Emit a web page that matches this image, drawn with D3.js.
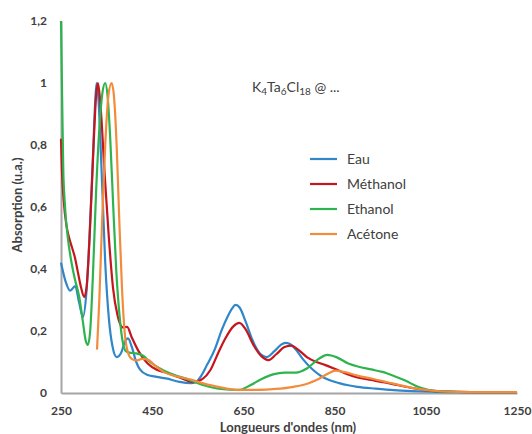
<!DOCTYPE html>
<html><head><meta charset="utf-8">
<script src="https://cdn.jsdelivr.net/npm/d3@7"></script>
<style>
body{margin:0;background:#fff;}
svg{display:block;font-family:Lato, "Liberation Sans", sans-serif;}
</style></head>
<body><svg id="c" width="532" height="434"></svg>
<script>
const xTicks = [250, 450, 650, 850, 1050, 1250];
const yTicks = [0, 0.2, 0.4, 0.6, 0.8, 1, 1.2];

const eauNm  = [250,260,270,281,290,298,306,313,320,325,328,332,340,347,355,363,372,382,390,397,405,415,423,440,460,480,510,535,545,555,570,587,603,615,625,633,642,655,670,688,701,718,732,742,752,765,780,800,820,838,860,880,900,940,980,1020,1060,1100,1150,1200,1250];
const eauAbs = [0.42,0.36,0.33,0.345,0.29,0.245,0.33,0.52,0.76,0.94,1.0,0.95,0.68,0.42,0.24,0.15,0.116,0.13,0.165,0.176,0.15,0.1,0.076,0.058,0.052,0.047,0.036,0.032,0.034,0.05,0.09,0.14,0.205,0.245,0.272,0.284,0.275,0.23,0.17,0.125,0.116,0.135,0.155,0.162,0.158,0.14,0.11,0.078,0.055,0.042,0.032,0.025,0.02,0.014,0.009,0.006,0.004,0.003,0.003,0.003,0.003];

const metNm  = [250,252,256,262,268,274,280,287,294,301,306,312,318,323,327,331,336,346,355,364,374,385,395,405,420,440,460,480,510,540,560,578,595,610,628,641,655,672,690,705,722,740,755,770,790,810,830,850,875,900,930,960,990,1020,1050,1090,1150,1250];
const metAbs = [0.82,0.72,0.62,0.54,0.5,0.47,0.44,0.39,0.34,0.31,0.34,0.48,0.68,0.85,0.96,1.0,0.94,0.70,0.5,0.34,0.25,0.212,0.213,0.18,0.135,0.095,0.075,0.066,0.05,0.035,0.045,0.075,0.13,0.175,0.215,0.226,0.205,0.155,0.118,0.106,0.125,0.148,0.153,0.14,0.115,0.1,0.09,0.078,0.062,0.05,0.042,0.034,0.025,0.016,0.009,0.005,0.003,0.003];

const ethNm  = [250,253,255,258,265,272,280,290,298,304,309,314,320,327,334,341,347,352,358,364,371,379,386,392,400,415,430,445,460,490,530,565,600,640,665,690,715,740,765,790,815,834,855,880,905,930,955,980,1005,1030,1055,1085,1150,1250];
const ethAbs = [1.2,0.9,0.72,0.62,0.5,0.43,0.37,0.31,0.23,0.17,0.155,0.2,0.38,0.65,0.85,0.97,1.0,0.96,0.82,0.62,0.4,0.24,0.16,0.135,0.13,0.128,0.12,0.1,0.085,0.063,0.043,0.024,0.013,0.01,0.025,0.045,0.06,0.066,0.066,0.08,0.11,0.123,0.115,0.095,0.084,0.076,0.068,0.055,0.04,0.022,0.01,0.005,0.003,0.003];

const aceNm  = [329,334,340,347,354,361,366,372,378,384,390,397,405,415,428,440,455,475,500,530,560,600,640,680,720,760,790,815,835,852,870,900,935,970,1000,1030,1060,1100,1150,1250];
const aceAbs = [0.14,0.3,0.55,0.8,0.96,1.0,0.96,0.8,0.55,0.33,0.19,0.13,0.11,0.105,0.11,0.108,0.09,0.068,0.055,0.045,0.032,0.018,0.01,0.01,0.013,0.02,0.03,0.045,0.062,0.072,0.068,0.056,0.045,0.033,0.023,0.014,0.008,0.004,0.003,0.003];

const seriesNames  = ["Eau", "Méthanol", "Ethanol", "Acétone"];
const seriesColors = ["#2f86c9", "#c4161c", "#2eb34f", "#f28c3c"];
const seriesNm  = [eauNm, metNm, ethNm, aceNm];
const seriesAbs = [eauAbs, metAbs, ethAbs, aceAbs];

const svg = d3.select("#c");
const x = d3.scaleLinear().domain([250, 1250]).range([61, 517]);
const y = d3.scaleLinear().domain([0, 1.2]).range([393, 21]);
const fmt = d => String(d).replace(".", ",");

// axes
const xa = svg.append("g").attr("transform", "translate(0,393)")
  .call(d3.axisBottom(x).tickValues(xTicks).tickSize(0).tickPadding(13).tickFormat(d => d));
const ya = svg.append("g").attr("transform", "translate(61,0)")
  .call(d3.axisLeft(y).tickValues(yTicks).tickSize(0).tickPadding(14).tickFormat(fmt));
[xa, ya].forEach(g => {
  g.select(".domain").attr("stroke", "#a6a6a6").attr("stroke-width", 2);
  g.selectAll("text").attr("font-size", 12).attr("font-weight", "bold")
    .attr("fill", "#404040").attr("font-family", "Lato, sans-serif");
});

// lines
const line = d3.line().curve(d3.curveMonotoneX);
seriesNames.forEach((n, i) => {
  const pts = seriesNm[i].map((v, j) => [x(v), y(seriesAbs[i][j])]);
  svg.append("path").attr("d", line(pts)).attr("fill", "none")
    .attr("stroke", seriesColors[i]).attr("stroke-width", 2.2)
    .attr("stroke-linejoin", "round");
});

// axis titles
svg.append("text").attr("x", 288).attr("y", 432).attr("text-anchor", "middle")
  .attr("font-size", 13).attr("font-weight", "bold").attr("fill", "#404040")
  .text("Longueurs d'ondes (nm)");
svg.append("text").attr("transform", "translate(22,205) rotate(-90)").attr("text-anchor", "middle")
  .attr("font-size", 13).attr("font-weight", "bold").attr("fill", "#404040")
  .text("Absorption (u.a.)");

// title with subscripts
const t = svg.append("text").attr("x", 252).attr("y", 92).attr("font-size", 14).attr("fill", "#404040");
const parts = [["K",0],["4",1],["Ta",0],["6",1],["Cl",0],["18",1],[" @ ...",0]];
let shifted = false;
parts.forEach(([s, sub]) => {
  const dy = sub ? (shifted ? 0 : 3) : (shifted ? -3 : 0);
  shifted = !!sub;
  t.append("tspan").attr("font-size", sub ? 10 : 14).attr("dy", dy).text(s);
});

// legend
const lg = svg.append("g");
seriesNames.forEach((n, i) => {
  const yy = 159 + i * 25;
  lg.append("line").attr("x1", 310).attr("x2", 337).attr("y1", yy).attr("y2", yy)
    .attr("stroke", seriesColors[i]).attr("stroke-width", 2.2);
  lg.append("text").attr("x", 347).attr("y", yy + 5).attr("font-size", 14)
    .attr("fill", "#404040").text(n);
});
</script></body></html>
